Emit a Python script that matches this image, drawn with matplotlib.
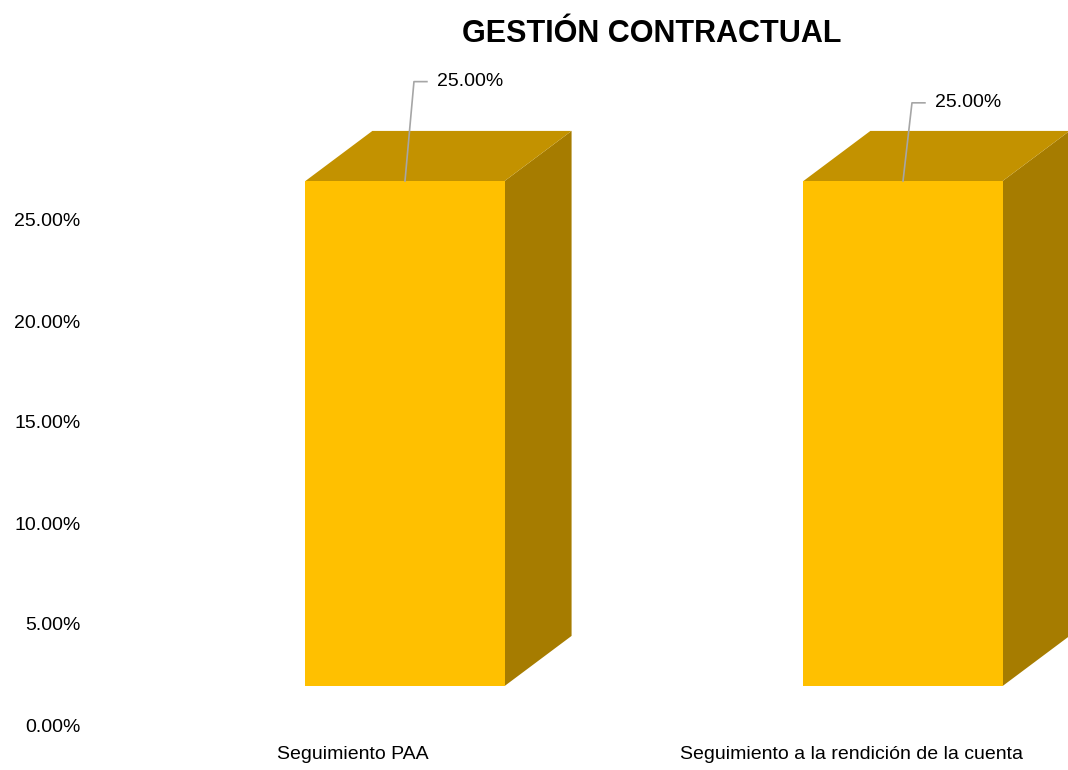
import matplotlib
matplotlib.use("Agg")
import matplotlib.pyplot as plt
from matplotlib.patches import Polygon

# Data
categories = ['Seguimiento PAA', 'Seguimiento a la rendición de la cuenta']
values = [25.0, 25.0]  # percent
yticks = [0, 5, 10, 15, 20, 25]

plt.rcParams['font.family'] = ['Liberation Sans', 'DejaVu Sans']

# 3D look (in data units)
width = 0.40
lift = 1.93          # front face sits above the back-wall zero
ddx, ddy = 0.1345, 2.48  # depth offset of the back faces
front_c = '#FFC000'
top_c = '#C39200'
side_c = '#A67C00'
label_y = [31.85, 30.8]

fig = plt.figure(figsize=(10.68, 7.70), dpi=100)
ax = fig.add_axes([90 / 1068, 45 / 770, 978 / 1068, 606 / 770])
ax.set_xlim(-0.6325, 1.3313)
ax.set_ylim(0, 30)

x = list(range(len(categories)))
ax.bar(x, values, width=width, bottom=lift, color=front_c, zorder=3)

for xi, v in zip(x, values):
    r = xi + width / 2
    l = xi - width / 2
    top = lift + v
    side = Polygon([(r, lift), (r + ddx, lift + ddy), (r + ddx, top + ddy), (r, top)],
                   closed=True, facecolor=side_c, edgecolor='none', zorder=2)
    lid = Polygon([(l, top), (l + ddx, top + ddy), (r + ddx, top + ddy), (r, top)],
                  closed=True, facecolor=top_c, edgecolor='none', zorder=2)
    ax.add_patch(side)
    ax.add_patch(lid)

for xi, v, ly in zip(x, values, label_y):
    top = lift + v
    ax.plot([xi, xi + 0.018, xi + 0.044], [top, ly, ly], color='#A6A6A6',
            lw=1.2, zorder=4, clip_on=False)
    ax.text(xi + 0.064, ly, f'{v:.2f}%', ha='left', va='center', fontsize=14,
            color='black', zorder=5, clip_on=False)

ax.set_yticks(yticks)
ax.set_yticklabels([f'{t:.2f}%' for t in yticks], fontsize=14)
ax.set_xticks([xi - 0.104 for xi in x])
ax.set_xticklabels(categories, fontsize=14)
ax.tick_params(axis='y', length=0, pad=7)
ax.tick_params(axis='x', length=0, pad=15)
for s in ax.spines.values():
    s.set_visible(False)

fig.text(652 / 1068, 1 - 42 / 770, 'GESTIÓN CONTRACTUAL', ha='center', va='baseline',
         fontsize=22, fontweight='bold')

fig.savefig('out.png', dpi=100)
